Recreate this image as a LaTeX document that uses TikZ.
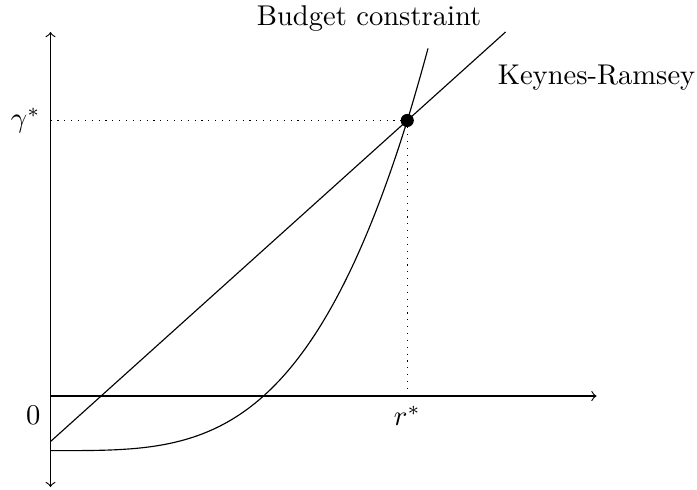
\documentclass[tikz,border=0pt]{standalone}
\usetikzlibrary{calc}
\begin{document}
\begin{tikzpicture}[x=31.85pt,y=31.85pt,
  axis/.style={->},
  guide/.style={dotted},
  lbl/.style={inner sep=3.33pt}]
\useasboundingbox (-0.555,-1.022) rectangle (7.104,4.352);
% axes
\coordinate (O) at (0,0);
\coordinate (ybot) at (0,-1);
\coordinate (ytop) at (0,4);
\coordinate (xend) at (6,0);
\draw[<->] (ybot) -- (ytop);
\draw[axis] (O) -- (xend);
% Keynes-Ramsey line
\coordinate (kr0) at (0,-0.5);
\coordinate (kr1) at (5,4);
\draw (kr0) -- (kr1);
% budget constraint curve
\coordinate (bc0) at (0,-0.6);
\draw (bc0) -- plot[domain=0.01:4.15,samples=120,smooth] (\x,{-0.6+0.03093*pow(\x,3.488)});
% equilibrium
\coordinate (E) at (3.92,3.028);
\coordinate (Ey) at (0,3.028);
\coordinate (Ex) at (3.92,0);
\draw[guide] (Ey) -- (E);
\draw[guide] (E) -- (Ex);
\fill (E) circle (2.3pt);
% labels
\node[lbl,left] (gs) at (Ey) {$\gamma^*$};
\node[lbl,below] (rs) at (Ex) {$r^*$};
\node[lbl,below left] (zero) at (O) {$0$};
\node (krl) at (6,3.5) {Keynes-Ramsey};
\node (bcl) at (3.5,4.15) {Budget constraint};
\end{tikzpicture}
\end{document}
